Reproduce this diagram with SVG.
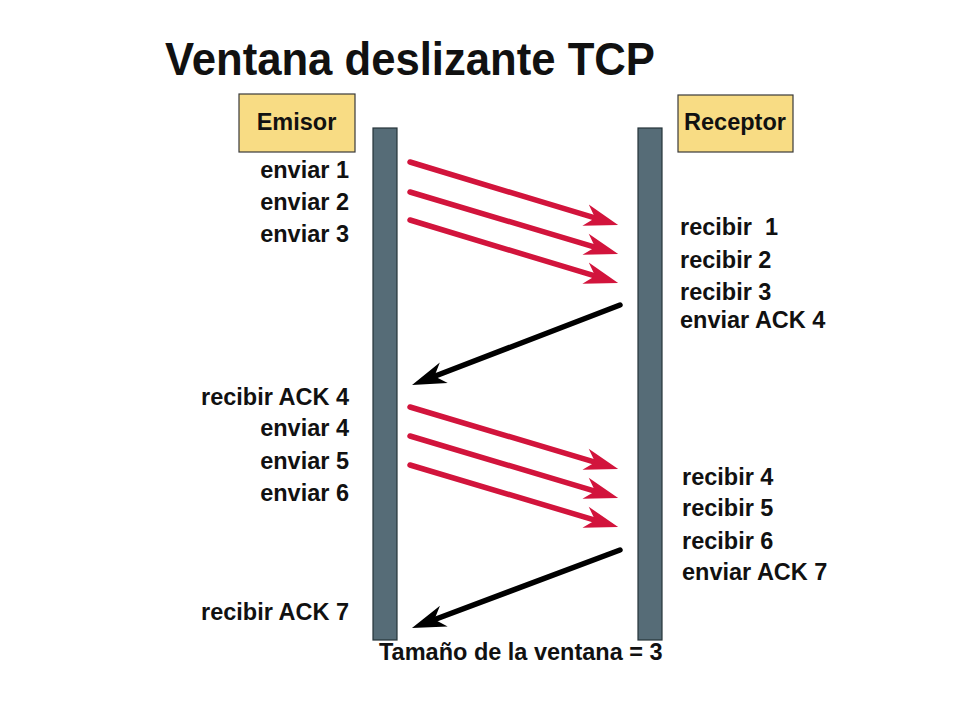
<svg xmlns="http://www.w3.org/2000/svg" width="960" height="720" viewBox="0 0 960 720">
<style>
text{font-family:"Liberation Sans",Arial,sans-serif;font-weight:bold;fill:#111;}
.t{font-size:46px;}
.lbl{font-size:23.5px;}
.l{text-anchor:end;}
.box{fill:#f8dc84;stroke:#3a3a3a;stroke-width:1.2;}
.bar{fill:#566c77;stroke:#26343a;stroke-width:1.2;}
.red{stroke:#d2143c;stroke-width:5.5;stroke-linecap:round;fill:none;}
.blk{stroke:#000;stroke-width:5.5;stroke-linecap:round;fill:none;}
</style>
<defs>
<marker id="hr" markerUnits="userSpaceOnUse" orient="auto" viewBox="-20 -15 45 30" refX="0" refY="0" markerWidth="45" markerHeight="30" overflow="visible">
<path d="M20,0 L-14,-11 L-4,0 L-14,11 Z" fill="#d2143c"/>
</marker>
<marker id="hb" markerUnits="userSpaceOnUse" orient="auto" viewBox="-20 -15 45 30" refX="0" refY="0" markerWidth="45" markerHeight="30" overflow="visible">
<path d="M20,0 L-14,-11 L-4,0 L-14,11 Z" fill="#000"/>
</marker>
</defs>
<rect width="960" height="720" fill="#fff"/>
<text class="t" x="165" y="75" textLength="490" lengthAdjust="spacingAndGlyphs">Ventana deslizante TCP</text>
<g id="emisor">
<rect class="box" x="239" y="94" width="116" height="58"/>
<text class="lbl" x="296.5" y="130" text-anchor="middle">Emisor</text>
</g>
<g id="receptor">
<rect class="box" x="678" y="95" width="115" height="57"/>
<text class="lbl" x="735" y="130" text-anchor="middle">Receptor</text>
</g>
<g id="emisor-line">
<rect class="bar" x="373" y="128" width="24" height="512"/>
</g>
<g id="receptor-line">
<rect class="bar" x="638" y="128" width="24" height="512"/>
</g>
<g id="emisor-labels">
<text class="lbl l" x="349" y="178">enviar 1</text>
<text class="lbl l" x="349" y="210">enviar 2</text>
<text class="lbl l" x="349" y="242">enviar 3</text>
<text class="lbl l" x="349" y="405">recibir ACK 4</text>
<text class="lbl l" x="349" y="436">enviar 4</text>
<text class="lbl l" x="349" y="469">enviar 5</text>
<text class="lbl l" x="349" y="501">enviar 6</text>
<text class="lbl l" x="349" y="620">recibir ACK 7</text>
</g>
<g id="receptor-labels">
<text class="lbl" x="680" y="235" xml:space="preserve">recibir  1</text>
<text class="lbl" x="680" y="268">recibir 2</text>
<text class="lbl" x="680" y="300">recibir 3</text>
<text class="lbl" x="680" y="328">enviar ACK 4</text>
<text class="lbl" x="682" y="485">recibir 4</text>
<text class="lbl" x="682" y="516">recibir 5</text>
<text class="lbl" x="682" y="549">recibir 6</text>
<text class="lbl" x="682" y="580">enviar ACK 7</text>
</g>
<g id="connectors">
<line class="red" x1="410" y1="162" x2="599" y2="219.2" marker-end="url(#hr)"/>
<line class="red" x1="410" y1="192" x2="599" y2="248.3" marker-end="url(#hr)"/>
<line class="red" x1="410" y1="220" x2="599" y2="277.2" marker-end="url(#hr)"/>
<line class="blk" x1="620" y1="305" x2="430.7" y2="377.8" marker-end="url(#hb)"/>
<line class="red" x1="410" y1="407" x2="599" y2="463.3" marker-end="url(#hr)"/>
<line class="red" x1="410" y1="436" x2="599" y2="492.3" marker-end="url(#hr)"/>
<line class="red" x1="410" y1="465" x2="599" y2="521.3" marker-end="url(#hr)"/>
<line class="blk" x1="620" y1="550" x2="430.7" y2="621" marker-end="url(#hb)"/>
</g>
<text class="lbl" x="379" y="660">Tamaño de la ventana = 3</text>
</svg>
